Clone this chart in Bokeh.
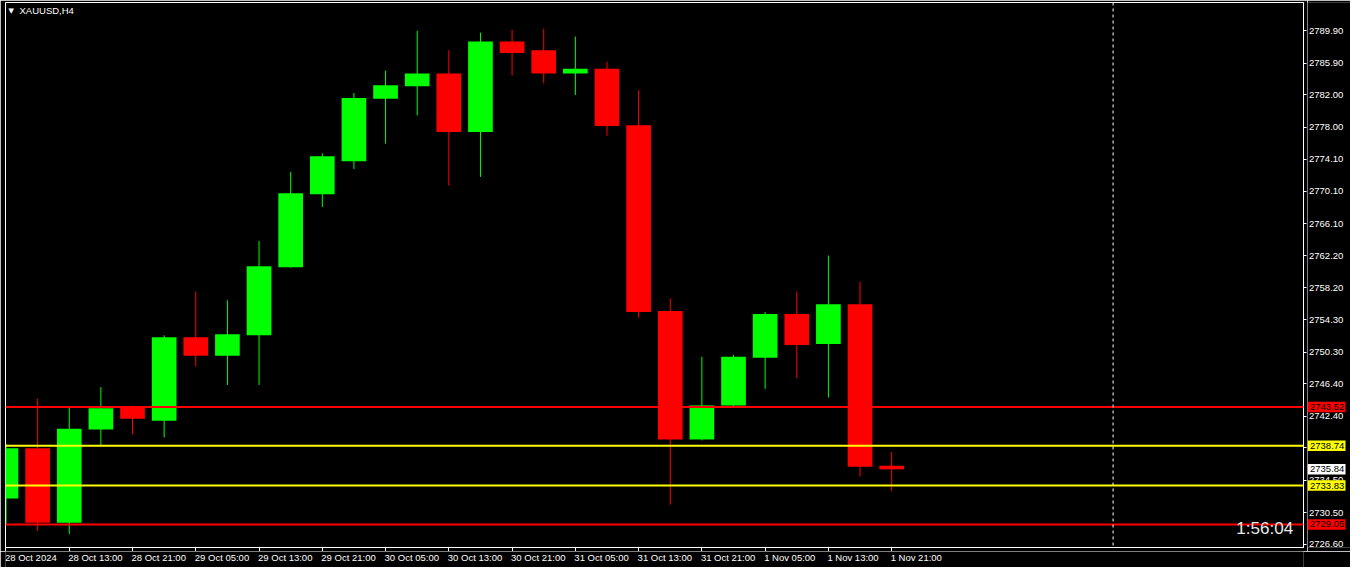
from bokeh.plotting import figure
from bokeh.layouts import row, column
from bokeh.models import (Range1d, FixedTicker, Span, Label, ColumnDataSource)
from bokeh.core.properties import value
from bokeh.embed import file_html
from bokeh.resources import INLINE

# ---------------- data (XAUUSD, H4) ----------------
opens = [2732.24, 2738.44, 2729.24, 2740.76, 2743.57, 2741.84, 2752.12, 2749.84,
         2752.36, 2760.76, 2769.76, 2773.84, 2781.52, 2783.08, 2784.64, 2777.44,
         2788.60, 2787.52, 2784.64, 2785.24, 2778.28, 2755.36, 2739.52, 2743.72,
         2749.60, 2755.00, 2751.28, 2756.20, 2736.28]
highs = [2739.00, 2744.56, 2743.48, 2745.98, 2743.70, 2752.36, 2757.76, 2756.68,
         2763.99, 2772.52, 2774.80, 2782.24, 2785.00, 2789.92, 2787.52, 2789.68,
         2790.04, 2790.16, 2789.20, 2786.08, 2782.60, 2756.92, 2749.72, 2749.96,
         2755.24, 2757.76, 2762.20, 2758.96, 2737.96]
lows = [2729.09, 2728.25, 2727.85, 2738.84, 2740.16, 2739.76, 2748.52, 2746.24,
        2746.24, 2760.70, 2768.20, 2772.88, 2775.99, 2779.48, 2770.82, 2771.90,
        2784.40, 2783.44, 2782.00, 2776.96, 2754.52, 2731.48, 2739.40, 2743.48,
        2745.76, 2747.08, 2744.68, 2734.96, 2733.16]
closes = [2738.44, 2729.24, 2740.84, 2743.36, 2742.08, 2752.12, 2749.84, 2752.48,
          2760.88, 2769.88, 2774.44, 2781.64, 2783.20, 2784.64, 2777.44, 2788.60,
          2787.16, 2784.64, 2785.24, 2778.16, 2755.24, 2739.52, 2743.72, 2749.72,
          2755.00, 2751.16, 2756.20, 2736.16, 2735.84]

time_label_idx = [0, 2, 4, 6, 8, 10, 12, 14, 16, 18, 20, 22, 24, 26, 28]
time_labels = ["28 Oct 2024", "28 Oct 13:00", "28 Oct 21:00", "29 Oct 05:00",
               "29 Oct 13:00", "29 Oct 21:00", "30 Oct 05:00", "30 Oct 13:00",
               "30 Oct 21:00", "31 Oct 05:00", "31 Oct 13:00", "31 Oct 21:00",
               "1 Nov 05:00", "1 Nov 13:00", "1 Nov 21:00"]

price_ticks = [2726.60, 2730.50, 2734.50, 2738.50, 2742.40, 2746.40, 2750.30,
               2754.30, 2758.20, 2762.20, 2766.10, 2770.10, 2774.10, 2778.00,
               2782.00, 2785.90, 2789.90]

red_levels = [2743.52, 2729.05]
yellow_levels = [2738.74, 2733.83]
current_price = 2735.84
separator_idx = 35
timer_text = "1:56:04"
title_text = "XAUUSD,H4"

# ---------------- styling ----------------
BULL = "#00FF00"
BEAR = "#FF0000"
YEL = "#FFFF00"
FONT = "Liberation Sans"
AX_FS = "9.5px"

X0, X1 = -0.0156, 41.02
Y0, Y1 = 2726.20, 2793.40
xr = Range1d(X0, X1)
yr = Range1d(Y0, Y1)

idx = list(range(len(opens)))
colors = [BULL if c >= o else BEAR for o, c in zip(opens, closes)]
src = ColumnDataSource(dict(
    x=idx, high=highs, low=lows,
    top=[max(o, c) for o, c in zip(opens, closes)],
    bottom=[min(o, c) for o, c in zip(opens, closes)],
    color=colors))

# ---------------- main chart ----------------
p = figure(width=1307, height=551, x_range=xr, y_range=yr,
           output_backend="svg", toolbar_location=None, y_axis_location="right",
           background_fill_color="black", border_fill_color="black",
           min_border_left=5, min_border_top=2, min_border_bottom=4,
           min_border_right=4, outline_line_color="white")
p.xgrid.visible = False
p.ygrid.visible = False

p.segment(x0="x", y0="low", x1="x", y1="high", line_color="color", line_width=1, source=src)
p.vbar(x="x", width=0.78, top="top", bottom="bottom", fill_color="color",
       line_color=None, source=src)

for v in red_levels:
    p.add_layout(Span(location=v, dimension="width", line_color=BEAR, line_width=2))
for v in yellow_levels:
    p.add_layout(Span(location=v, dimension="width", line_color=YEL, line_width=2))
p.add_layout(Span(location=separator_idx, dimension="height", line_color="white",
                  line_width=1, line_dash="3 3"))

# axes: lines and tick marks (their labels are set in the strips beside/below)
ya = p.yaxis[0]
ya.ticker = FixedTicker(ticks=price_ticks)
ya.axis_line_color = "white"
ya.major_tick_line_color = "white"
ya.major_tick_out = 3
ya.major_tick_in = 0
ya.minor_tick_line_color = None
ya.major_label_text_font_size = "0px"
ya.major_label_text_color = None
ya.major_label_standoff = 0

xa = p.xaxis[0]
xa.ticker = FixedTicker(ticks=time_label_idx)
xa.axis_line_color = "white"
xa.major_tick_line_color = "white"
xa.major_tick_out = 4
xa.major_tick_in = 0
xa.minor_tick_line_color = None
xa.major_label_text_font_size = "0px"
xa.major_label_text_color = None
xa.major_label_standoff = 0

p.add_layout(Label(x=40.70, y=2728.53, text=timer_text, text_align="right",
                   text_baseline="middle", text_color="#E8E8E8", text_font=FONT,
                   text_font_size="17.1px"))
p.add_layout(Label(x=X0, y=Y1, x_offset=3, y_offset=-4, text="\u25BC", text_align="left",
                   text_baseline="top", text_color="white", text_font="DejaVu Sans",
                   text_font_size="7px"))
p.add_layout(Label(x=X0, y=Y1, x_offset=14, y_offset=-2, text=title_text, text_align="left",
                   text_baseline="top", text_color="white", text_font=FONT,
                   text_font_size=AX_FS))

# ---------------- price scale strip (right) ----------------
pr = figure(width=43, height=551, x_range=Range1d(0, 43), y_range=yr,
            output_backend="svg", toolbar_location=None,
            x_axis_location=None, y_axis_location=None,
            background_fill_color="black", border_fill_color="black",
            min_border_left=0, min_border_right=0, min_border_top=2,
            min_border_bottom=4, outline_line_color=None)
pr.xgrid.visible = False
pr.ygrid.visible = False

tick_src = ColumnDataSource(dict(y=price_ticks, text=["%.2f" % v for v in price_ticks]))
pr.text(x=1.5, y="y", text="text", source=tick_src, text_align="left",
        text_baseline="middle", text_color="white", text_font=value(FONT),
        text_font_size=AX_FS)

box_vals = red_levels + yellow_levels + [current_price]
box_bg = [BEAR] * len(red_levels) + [YEL] * len(yellow_levels) + ["white"]
box_src = ColumnDataSource(dict(y=box_vals, text=["%.2f" % v for v in box_vals], bg=box_bg))
pr.rect(x=19, y="y", width=38, height=10.5, height_units="screen",
        fill_color="bg", line_color=None, source=box_src)
pr.text(x=2.5, y="y", text="text", source=box_src, text_align="left",
        text_baseline="middle", text_color="black", text_font=value(FONT),
        text_font_size=AX_FS)

# ---------------- time scale strip (below) ----------------
pb = figure(width=1350, height=16, x_range=xr, y_range=Range1d(0, 16),
            output_backend="svg", toolbar_location=None,
            x_axis_location=None, y_axis_location=None,
            background_fill_color="black", border_fill_color="black",
            min_border_left=5, min_border_right=47, min_border_top=0,
            min_border_bottom=0, outline_line_color=None)
pb.xgrid.visible = False
pb.ygrid.visible = False
tl_src = ColumnDataSource(dict(x=time_label_idx, text=time_labels))
pb.text(x="x", y=15.5, text="text", source=tl_src, text_align="left",
        text_baseline="top", text_color="white", text_font=value(FONT),
        text_font_size=AX_FS, x_offset=-1)

layout = column(row(p, pr), pb)
open("out.html", "w").write(file_html(layout, INLINE))
